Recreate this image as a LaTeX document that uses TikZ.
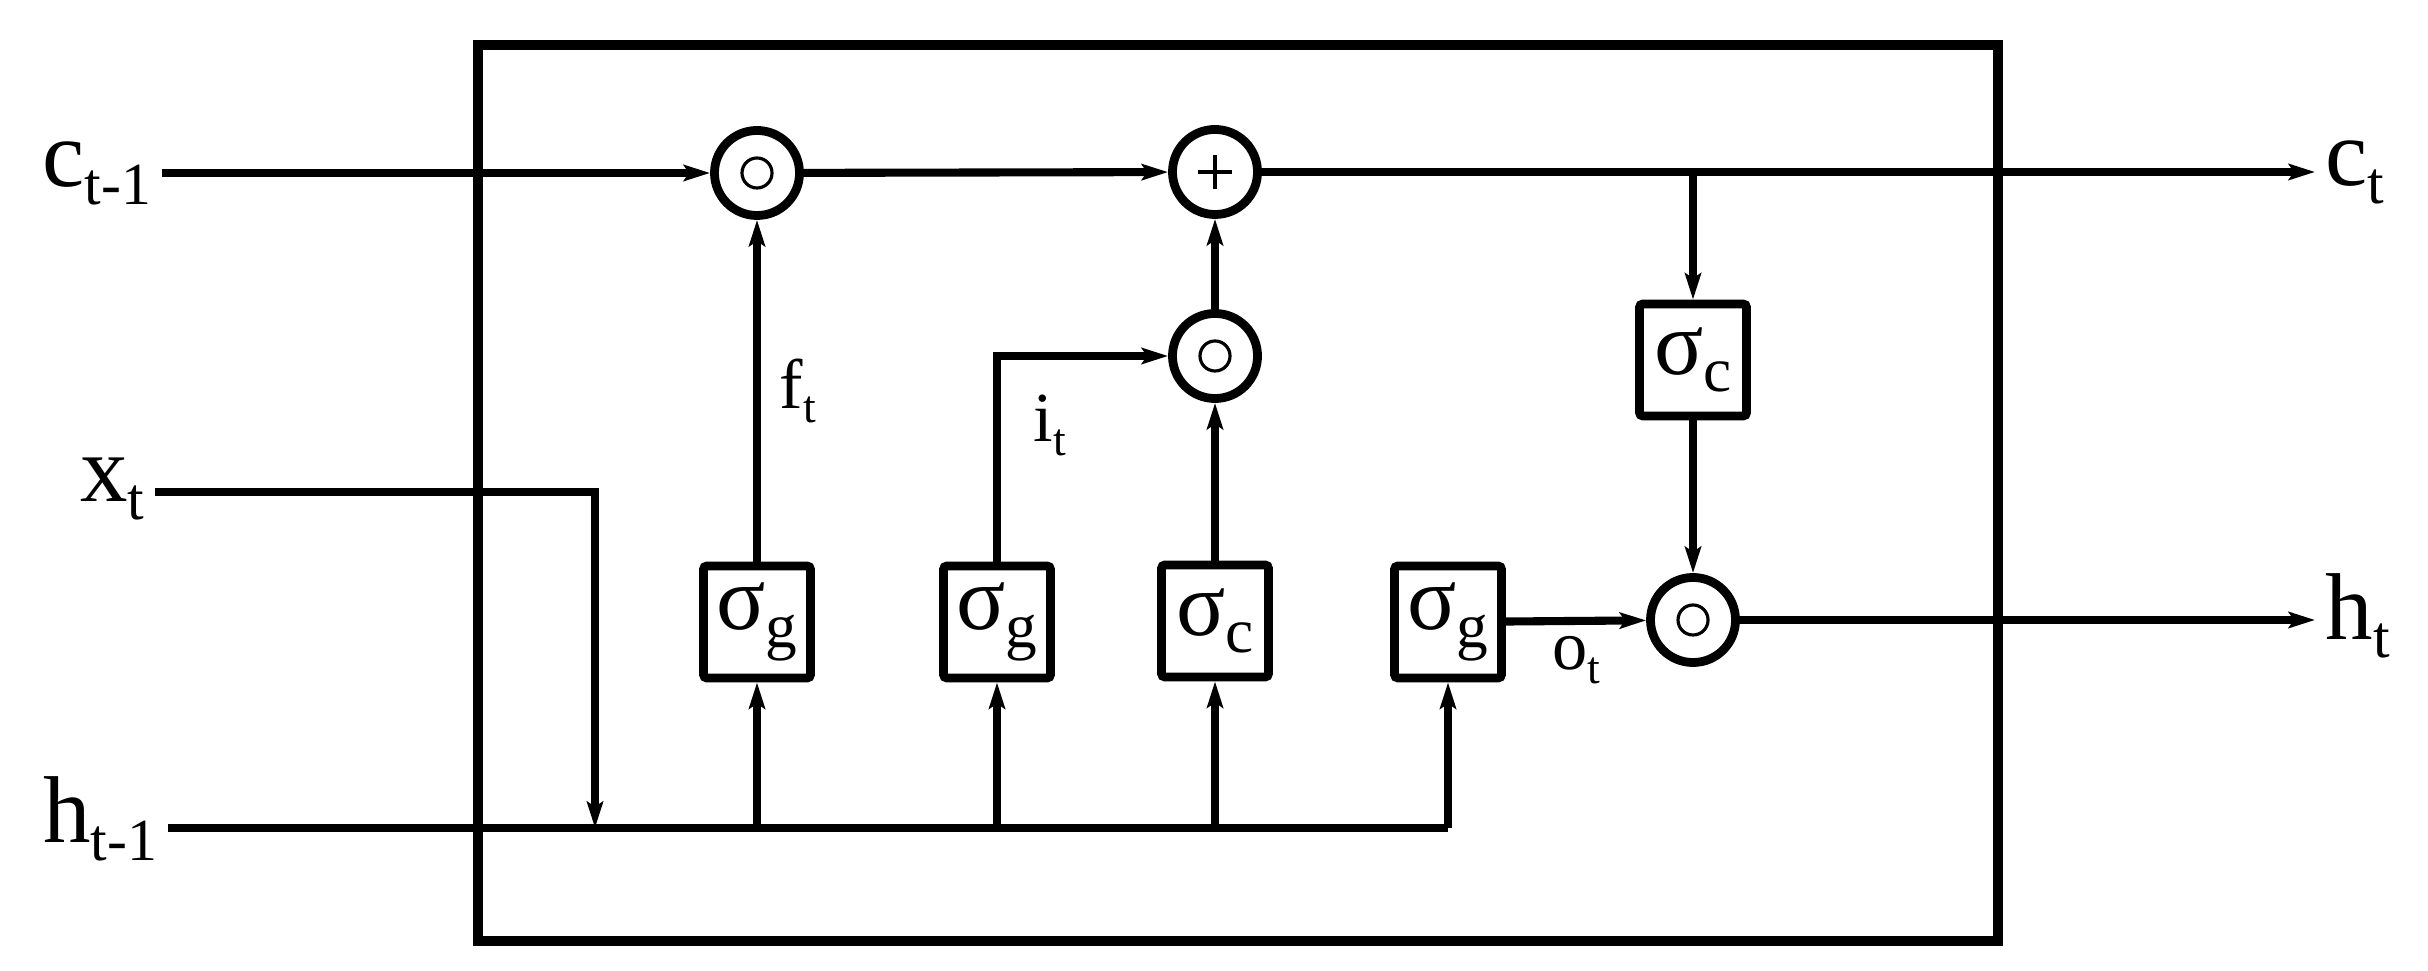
\documentclass[tikz,border=0pt]{standalone}
\usepackage{fontspec}
\setmainfont{Liberation Serif}
\usepackage{tikz}
\usetikzlibrary{arrows.meta,positioning}
\tikzstyle{wire} = [line width=2.3pt]
\tikzstyle{arrow} = [wire,-{Stealth[length=7.5pt,width=4.6pt,inset=1.5pt]}]
\tikzstyle{gatebox} = [rectangle, rounded corners=1pt, draw, line width=2.5pt, minimum width=1.07cm, minimum height=1.12cm, inner sep=0pt]
\tikzstyle{opnode} = [circle, draw, line width=2.5pt, minimum size=0.85cm, inner sep=0pt]
\tikzstyle{hadamard} = [opnode, path picture={\draw[line width=0.9pt] (path picture bounding box.center) circle (0.15cm);}]
\tikzstyle{sumop} = [opnode, path picture={\draw[line width=0.9pt] ([xshift=-0.17cm]path picture bounding box.center) -- ++(0.34cm,0) ([yshift=-0.17cm]path picture bounding box.center) -- ++(0,0.34cm);}]
\tikzstyle{iolabel} = [inner sep=0pt, inner xsep=0.1cm]
\newcommand{\biglbl}[2]{{\fontsize{27pt}{27pt}\selectfont #1\raisebox{-5pt}{\fontsize{17pt}{17pt}\selectfont #2}}}
\newcommand{\gatelbl}[2]{{\fontsize{20pt}{20pt}\selectfont #1\raisebox{-4pt}{\fontsize{13pt}{13pt}\selectfont #2}}}
\newcommand{\actlbl}[2]{{\fontsize{26pt}{26pt}\selectfont #1\raisebox{-5pt}{\fontsize{18pt}{18pt}\selectfont #2}}}

\begin{document}
\begin{tikzpicture}[x=0.01cm, y=-0.01cm]
\useasboundingbox (0,0) rectangle (2428,971);
% cell frame
\draw[line width=2.6pt] (478,45) rectangle (1998,941);

% activation boxes
\node (fgate) [gatebox] at (757,622) {\actlbl{σ}{g}};
\node (igate) [gatebox] at (997,622) {\actlbl{σ}{g}};
\node (cgate) [gatebox] at (1215,621) {\actlbl{σ}{c}};
\node (ogate) [gatebox] at (1448,622) {\actlbl{σ}{g}};
\node (ctanh) [gatebox] at (1693,360) {\actlbl{σ}{c}};

% pointwise operations
\node (fmul) [hadamard] at (757,173) {};
\node (csum) [sumop] at (1215,172) {};
\node (imul) [hadamard] at (1215,356) {};
\node (omul) [hadamard] at (1693,620) {};

% inputs and outputs
\node (cin) [iolabel, anchor=base east] at (162,187) {\biglbl{c}{t-1}};
\node (xin) [iolabel, anchor=base east] at (155,502) {\biglbl{x}{t}};
\node (hin) [iolabel, anchor=base east] at (168,843) {\biglbl{h}{t-1}};
\node (cout) [iolabel, anchor=base west] at (2315,186) {\biglbl{c}{t}};
\node (hout) [iolabel, anchor=base west] at (2315,640) {\biglbl{h}{t}};

\coordinate (xturn) at (595,492);
\coordinate (xdrop) at (595,828);
\coordinate (hbus) at (1448,828);

% cell state path
\draw[arrow] (cin.east |- fmul) -- (fmul);
\draw[arrow] (fmul) -- (csum);
\draw[arrow] (csum) -- (cout.west |- csum);
\draw[arrow] (csum -| ctanh) -- (ctanh);
\draw[arrow] (ctanh) -- (omul);
\draw[arrow] (omul) -- (hout.west |- omul);

% input and hidden state bus
\draw[wire] (hin.east |- hbus) -- (hbus);
\draw[arrow] (xin.east |- xturn) -- (xturn) -- (xdrop);
\draw[arrow] (fgate |- hbus) -- (fgate);
\draw[arrow] (igate |- hbus) -- (igate);
\draw[arrow] (cgate |- hbus) -- (cgate);
\draw[arrow] (hbus) -- (ogate);

% gate outputs
\draw[arrow] (fgate) -- node[right, xshift=2pt] {\gatelbl{f}{t}} (fmul);
\draw[arrow] (igate) |- node[pos=0.33, right, xshift=6pt] {\gatelbl{i}{t}} (imul);
\draw[arrow] (cgate) -- (imul);
\draw[arrow] (imul) -- (csum);
\draw[arrow] (ogate) -- node[below] {\gatelbl{o}{t}} (omul);
\end{tikzpicture}
\end{document}
